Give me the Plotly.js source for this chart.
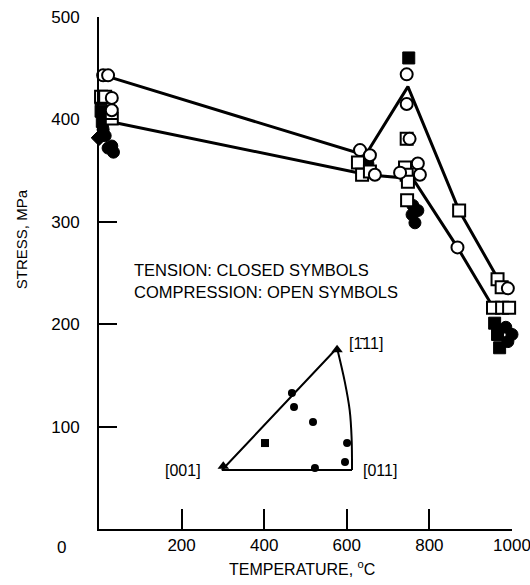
<!DOCTYPE html>
<html>
<head>
<meta charset="utf-8">
<script src="https://cdn.plot.ly/plotly-3.0.1.min.js"></script>
<style>html,body{margin:0;padding:0;background:#fff;}#chart{width:530px;height:585px;}</style>
</head>
<body>
<div id="chart"></div>
<script>
// ---- Data (temperature °C, stress MPa) ----
var upperLineT = [20, 645, 748, 872, 968];
var upperLineS = [442, 365, 432, 311, 243];
var lowerLineT = [25, 650, 760, 868, 955];
var lowerLineS = [398, 346, 342, 275, 216];

// Compression: open symbols
var openCircleT = [10, 22, 31, 31, 632, 656, 668, 745, 745, 752, 729, 772, 777, 868, 990];
var openCircleS = [443, 443, 421, 409, 370, 365, 346, 444, 415, 381, 348, 357, 346, 275, 235];
var openSquareT = [5, 15, 31, 627, 637, 656, 745, 741, 745, 748, 746, 872, 965, 975, 954, 976, 993];
var openSquareS = [422, 422, 401, 358, 346, 349, 381, 353, 346, 339, 321, 311, 244, 236, 216, 216, 216];

// Tension: closed symbols
var closedSquareT = [5, 5, 8, 750, 958, 965, 970];
var closedSquareS = [420, 408, 398, 460, 201, 190, 177];
var closedCircleT = [10, 15, 22, 31, 35, 651, 760, 758, 765, 772, 985, 990, 1000];
var closedCircleS = [390, 384, 372, 374, 368, 357, 316, 307, 299, 311, 197, 183, 190];
var closedDiamondT = [0];
var closedDiamondS = [382];

// Inset: stereographic triangle (inset units)
var triSideX = [1, 0, 0.885];
var triSideY = [0, 0, 1];
var triArcX = [0.885, 0.945, 0.982, 0.997, 1];
var triArcY = [1, 0.72, 0.49, 0.26, 0];
var insetCircleX = [0.538, 0.554, 0.70, 0.962, 0.946, 0.715];
var insetCircleY = [0.631, 0.516, 0.393, 0.221, 0.066, 0.016];
var insetSquareX = [0.331];
var insetSquareY = [0.221];
var insetTriX = [0.01, 0.885];
var insetTriY = [0.03, 0.985];

// Tick labels
var xTicks = [200, 400, 600, 800, 1000];
var yTicks = [100, 200, 300, 400, 500];

var FONT = 'Liberation Sans, Arial, sans-serif';
var openMarker = function (sym) { return {symbol: sym, size: 12, color: '#fff', line: {color: '#000', width: 2}}; };
var closedMarker = function (sym) { return {symbol: sym, size: 12, color: '#000', line: {color: '#000', width: 1}}; };

var traces = [
  {x: upperLineT, y: upperLineS, mode: 'lines', line: {color: '#000', width: 3}, hoverinfo: 'skip'},
  {x: lowerLineT, y: lowerLineS, mode: 'lines', line: {color: '#000', width: 3}, hoverinfo: 'skip'},
  {x: closedSquareT, y: closedSquareS, mode: 'markers', marker: closedMarker('square'), cliponaxis: false},
  {x: closedCircleT, y: closedCircleS, mode: 'markers', marker: closedMarker('circle'), cliponaxis: false},
  {x: closedDiamondT, y: closedDiamondS, mode: 'markers', marker: closedMarker('diamond'), cliponaxis: false},
  {x: openSquareT, y: openSquareS, mode: 'markers', marker: openMarker('square'), cliponaxis: false},
  {x: openCircleT, y: openCircleS, mode: 'markers', marker: openMarker('circle'), cliponaxis: false},
  {x: triSideX, y: triSideY, xaxis: 'x2', yaxis: 'y2', mode: 'lines', line: {color: '#000', width: 2}, hoverinfo: 'skip'},
  {x: triArcX, y: triArcY, xaxis: 'x2', yaxis: 'y2', mode: 'lines', line: {color: '#000', width: 2, shape: 'spline'}, hoverinfo: 'skip'},
  {x: insetCircleX, y: insetCircleY, xaxis: 'x2', yaxis: 'y2', mode: 'markers', marker: {symbol: 'circle', size: 8, color: '#000'}, cliponaxis: false},
  {x: insetSquareX, y: insetSquareY, xaxis: 'x2', yaxis: 'y2', mode: 'markers', marker: {symbol: 'square', size: 8, color: '#000'}, cliponaxis: false},
  {x: insetTriX, y: insetTriY, xaxis: 'x2', yaxis: 'y2', mode: 'markers', marker: {symbol: 'triangle-up', size: 10, color: '#000'}, cliponaxis: false}
];

var layout = {
  width: 530, height: 585,
  margin: {l: 99, r: 18, t: 17, b: 56},
  paper_bgcolor: '#fff', plot_bgcolor: '#fff',
  showlegend: false,
  font: {family: FONT, color: '#000', size: 17},
  xaxis: {
    range: [0, 1000], tickvals: xTicks, ticktext: xTicks.map(String),
    showline: true, linecolor: '#000', linewidth: 2,
    ticks: 'inside', ticklen: 20, tickwidth: 2, tickcolor: '#000',
    showgrid: false, zeroline: false, fixedrange: true,
    ticklabeloverflow: 'allow',
    tickfont: {family: FONT, size: 17, color: '#000'}
  },
  yaxis: {
    range: [0, 500], tickvals: yTicks, ticktext: yTicks.map(String),
    showline: true, linecolor: '#000', linewidth: 2,
    ticks: 'inside', ticklen: 18, tickwidth: 2, tickcolor: '#000',
    showgrid: false, zeroline: false, fixedrange: true,
    ticklabelstandoff: 14, ticklabeloverflow: 'allow',
    tickfont: {family: FONT, size: 17, color: '#000'}
  },
  xaxis2: {domain: [0.2663, 0.6441], range: [-0.1, 1.1], anchor: 'y2', visible: false, fixedrange: true},
  yaxis2: {domain: [0.0914, 0.3773], range: [-0.1, 1.1], anchor: 'x2', visible: false, fixedrange: true},
  annotations: [
    {xref: 'paper', yref: 'paper', x: -0.0896, y: -0.037, text: '0', showarrow: false, xanchor: 'center', yanchor: 'middle', font: {size: 17}},
    {xref: 'paper', yref: 'paper', x: 0.4915, y: -0.076, text: 'TEMPERATURE, <sup>o</sup>C', showarrow: false, xanchor: 'center', yanchor: 'middle', font: {size: 16}},
    {xref: 'paper', yref: 'paper', x: -0.189, y: 0.566, text: 'STRESS, MPa', textangle: -90, showarrow: false, xanchor: 'center', yanchor: 'middle', font: {size: 15}},
    {xref: 'paper', yref: 'paper', x: 0.080, y: 0.506, text: 'TENSION: CLOSED SYMBOLS', showarrow: false, xanchor: 'left', yanchor: 'middle', font: {size: 16.5}},
    {xref: 'paper', yref: 'paper', x: 0.080, y: 0.463, text: 'COMPRESSION: OPEN SYMBOLS', showarrow: false, xanchor: 'left', yanchor: 'middle', font: {size: 16.5}},
    {xref: 'paper', yref: 'paper', x: 0.203, y: 0.115, text: '[001]', showarrow: false, xanchor: 'center', yanchor: 'middle', font: {size: 16}},
    {xref: 'paper', yref: 'paper', x: 0.680, y: 0.115, text: '[011]', showarrow: false, xanchor: 'center', yanchor: 'middle', font: {size: 16}},
    {xref: 'paper', yref: 'paper', x: 0.646, y: 0.363, text: '[1\u030411]', showarrow: false, xanchor: 'center', yanchor: 'middle', font: {size: 16}}
  ]
};

Plotly.newPlot('chart', traces, layout, {displayModeBar: false, staticPlot: true});
</script>
</body>
</html>
